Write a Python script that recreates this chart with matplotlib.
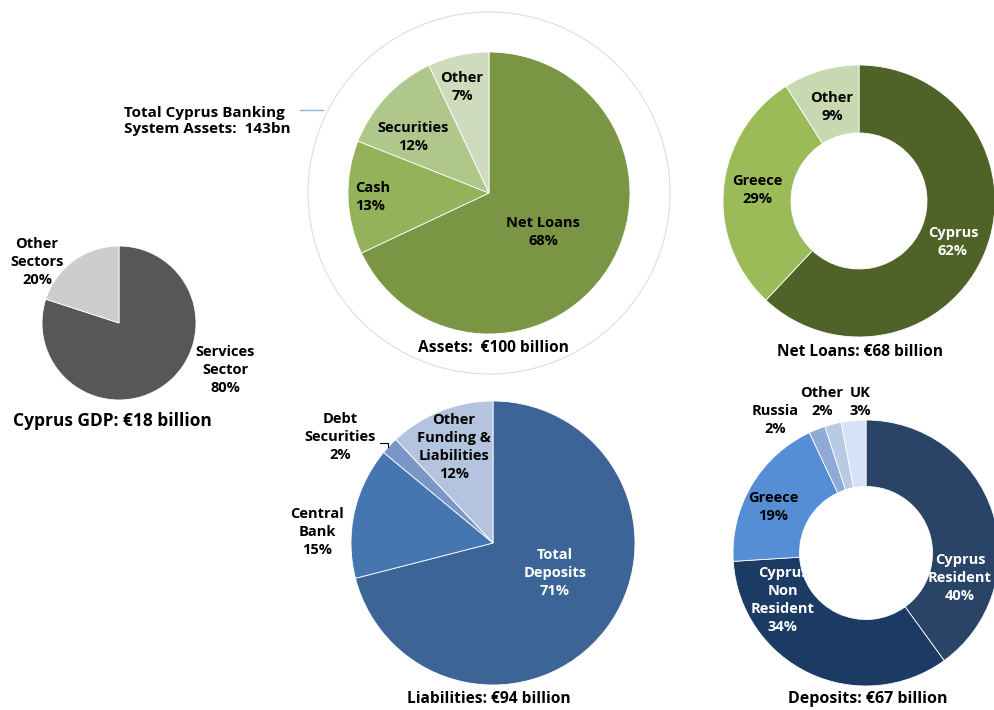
import matplotlib.pyplot as plt
from matplotlib.patches import Circle

plt.rcParams['font.family'] = ['Open Sans', 'DejaVu Sans']

# Cyprus GDP split
gdp_labels = ['Services\nSector', 'Other\nSectors']
gdp_share = [80, 20]

# Banking system assets
asset_labels = ['Net Loans', 'Cash', 'Securities', 'Other']
asset_share = [68, 13, 12, 7]

# Net loans by country
loan_labels = ['Cyprus', 'Greece', 'Other']
loan_share = [62, 29, 9]

# Liabilities
liab_labels = ['Total\nDeposits', 'Central\nBank', 'Debt\nSecurities', 'Other\nFunding &\nLiabilities']
liab_share = [71, 15, 2, 12]

# Deposits by origin
dep_labels = ['Cyprus\nResident', 'Cyprus\nNon\nResident', 'Greece', 'Russia', 'Other', 'UK']
dep_share = [40, 34, 19, 2, 2, 3]

W, H = 995, 710
fig = plt.figure(figsize=(W / 100, H / 100), dpi=100)
ax = fig.add_axes([0, 0, 1, 1])
ax.set_xlim(0, W)
ax.set_ylim(0, H)
ax.set_aspect('equal')
ax.axis('off')


def yy(y):
    # screen-style y (from top) to axis y
    return H - y


def pie(values, colors, cx, cy, r, hole=None):
    wedgeprops = dict(edgecolor='white', linewidth=0.6)
    if hole:
        wedgeprops['width'] = r * (1 - hole)
    ax.pie(values, colors=colors, startangle=90, counterclock=False,
           center=(cx, yy(cy)), radius=r, wedgeprops=wedgeprops, frame=True)


def label(x, y, s, color='black', size=10.5, ha='center'):
    ax.text(x, yy(y), s, ha=ha, va='center', color=color, fontsize=size,
            fontweight='bold', linespacing=1.35)


# GDP
pie(gdp_share, ['#575757', '#cdcdcd'], 119, 323, 77)
label(225, 370, f'{gdp_labels[0]}\n{gdp_share[0]}%')
label(37, 262, f'{gdp_labels[1]}\n{gdp_share[1]}%')
label(112, 421, 'Cyprus GDP: €18 billion', size=12.5)

# Assets with outer ring for total banking system
ax.add_patch(Circle((489, yy(193)), 181, fill=False, edgecolor='#d6dfee', linewidth=0.8))
pie(asset_share, ['#7a9644', '#93b25a', '#afc78b', '#cedcbd'], 489, 193, 141)
label(543, 232, f'{asset_labels[0]}\n{asset_share[0]}%')
label(355, 197, f'{asset_labels[1]}\n{asset_share[1]}%', ha='left')
label(413, 137, f'{asset_labels[2]}\n{asset_share[2]}%')
label(462, 87, f'{asset_labels[3]}\n{asset_share[3]}%')
label(493, 348, 'Assets:  €100 billion', size=11.2)
ax.plot([300, 323], [yy(110), yy(110)], color='#8fb0d8', linewidth=1.0)
ax.text(124, yy(121), 'Total Cyprus Banking\nSystem Assets:  143bn', ha='left', va='center',
        fontsize=11, fontweight='bold', linespacing=1.25)

# Net loans donut
pie(loan_share, ['#4f6228', '#9bbb59', '#c8d8b0'], 859, 201, 136, hole=0.5)
label(953, 242, f'{loan_labels[0]}\n{loan_share[0]}%', color='white')
label(757, 190, f'{loan_labels[1]}\n{loan_share[1]}%')
label(832, 107, f'{loan_labels[2]}\n{loan_share[2]}%')
label(860, 352, 'Net Loans: €68 billion', size=11.2)

# Liabilities
pie(liab_share, ['#3d6496', '#4676b0', '#7a96c6', '#b4c4df'], 493, 543, 142)
label(555, 573, f'{liab_labels[0]}\n{liab_share[0]}%', color='white')
label(317, 532, f'{liab_labels[1]}\n{liab_share[1]}%')
label(340, 437, f'{liab_labels[2]}\n{liab_share[2]}%')
label(454, 447, f'{liab_labels[3]}\n{liab_share[3]}%')
ax.plot([380, 388, 388], [yy(443), yy(443), yy(447)], color='black', linewidth=0.8)
label(489, 699, 'Liabilities: €94 billion', size=11.2)

# Deposits donut
pie(dep_share, ['#2a4468', '#1b3a64', '#558ed5', '#8eaad5', '#b8cbe4', '#d5e2f8'],
    866, 553, 133, hole=0.5)
label(960, 578, f'{dep_labels[0]}\n{dep_share[0]}%', color='white')
label(783, 600, f'{dep_labels[1]}\n{dep_share[1]}%', color='white')
label(773, 507, f'{dep_labels[2]}\n{dep_share[2]}%')
label(775, 420, f'{dep_labels[3]}\n{dep_share[3]}%')
label(822, 402, f'{dep_labels[4]}\n{dep_share[4]}%')
label(860, 402, f'{dep_labels[5]}\n{dep_share[5]}%')
label(868, 699, 'Deposits: €67 billion', size=11.5)

ax.set_xlim(0, W)
ax.set_ylim(0, H)
ax.axis('off')
fig.savefig('out.png', dpi=100)
